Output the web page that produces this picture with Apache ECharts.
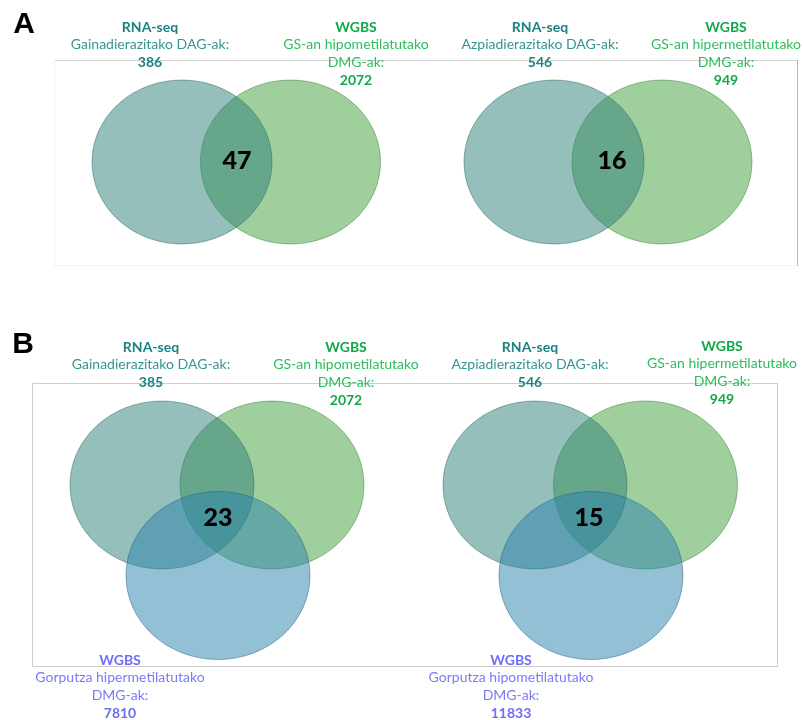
<!DOCTYPE html>
<html>
<head>
<meta charset="utf-8">
<script src="https://cdn.jsdelivr.net/npm/echarts@6/dist/echarts.min.js"></script>
<style>html,body{margin:0;padding:0;background:#fff}#c{width:804px;height:720px}</style>
</head>
<body>
<div id="c"></div>
<script>
// ---------- DATA ----------
const panelLetters = ['A', 'B'];

// Panel A, left diagram
const a1Titles = ['RNA-seq', 'WGBS'];
const a1Descs = [['Gainadierazitako DAG-ak:'], ['GS-an hipometilatutako', 'DMG-ak:']];
const a1Counts = [386, 2072];
const a1Common = 47;

// Panel A, right diagram
const a2Titles = ['RNA-seq', 'WGBS'];
const a2Descs = [['Azpiadierazitako DAG-ak:'], ['GS-an hipermetilatutako', 'DMG-ak:']];
const a2Counts = [546, 949];
const a2Common = 16;

// Panel B, left diagram
const b1Titles = ['RNA-seq', 'WGBS', 'WGBS'];
const b1Descs = [['Gainadierazitako DAG-ak:'], ['GS-an hipometilatutako', 'DMG-ak:'], ['Gorputza hipermetilatutako', 'DMG-ak:']];
const b1Counts = [385, 2072, 7810];
const b1Common = 23;

// Panel B, right diagram
const b2Titles = ['RNA-seq', 'WGBS', 'WGBS'];
const b2Descs = [['Azpiadierazitako DAG-ak:'], ['GS-an hipermetilatutako', 'DMG-ak:'], ['Gorputza hipometilatutako', 'DMG-ak:']];
const b2Counts = [546, 949, 11833];
const b2Common = 15;

// ---------- LAYOUT / STYLE ----------
const FONT = 'Lato, "Open Sans", sans-serif';
const circleFill = ['rgba(43,127,119,0.5)', 'rgba(65,160,61,0.5)', 'rgba(41,129,173,0.5)'];
const circleStroke = ['rgba(40,100,95,0.45)', 'rgba(50,120,50,0.45)', 'rgba(30,90,120,0.45)'];
const circleOrder = [1, 0, 2]; // green at bottom, teal above, blue on top
const titleColor = ['#1a8282', '#12a84a', '#6c6cf5'];
const descColor = ['#349593', '#2ebd5e', '#7a7af7'];

const diagrams = [
  { titles: a1Titles, descs: a1Descs, counts: a1Counts, common: a1Common,
    circles: [[182, 162], [290.5, 162]], rx: 90, ry: 82,
    labels: [[150, 27], [356, 27]], lh: 17.7, commonPos: [237, 161] },
  { titles: a2Titles, descs: a2Descs, counts: a2Counts, common: a2Common,
    circles: [[554, 162], [662, 162]], rx: 90, ry: 82,
    labels: [[540, 27], [726, 27]], lh: 17.7, commonPos: [612, 161] },
  { titles: b1Titles, descs: b1Descs, counts: b1Counts, common: b1Common,
    circles: [[162, 485], [272, 485], [218, 575.5]], rx: 92, ry: 84,
    labels: [[151, 347], [346, 347], [120, 660]], lh: 17.9, commonPos: [218, 518] },
  { titles: b2Titles, descs: b2Descs, counts: b2Counts, common: b2Common,
    circles: [[535, 485], [645.5, 485], [591, 575.5]], rx: 92, ry: 84,
    labels: [[530, 347], [722, 346], [511, 660]], lh: 17.9, commonPos: [589, 518] }
];

const series = [];
diagrams.forEach((d, di) => {
  // circles
  series.push({
    type: 'custom', coordinateSystem: 'cartesian2d', z: 2, silent: true,
    data: d.counts.map((c, i) => [i, c]),
    renderItem: (params, api) => {
      const i = params.dataIndex;
      const p = api.coord(d.circles[i]);
      const q = api.coord([d.circles[i][0] + d.rx, d.circles[i][1] + d.ry]);
      return {
        type: 'ellipse', z2: circleOrder[i],
        shape: { cx: p[0], cy: p[1], rx: Math.abs(q[0] - p[0]), ry: Math.abs(q[1] - p[1]) },
        style: { fill: circleFill[i], stroke: circleStroke[i], lineWidth: 1 }
      };
    }
  });
  // set labels
  series.push({
    type: 'custom', coordinateSystem: 'cartesian2d', z: 5, silent: true,
    data: d.counts.map((c, i) => [i, c]),
    renderItem: (params, api) => {
      const i = params.dataIndex;
      const lines = [{ t: d.titles[i], bold: true, col: titleColor[i] }]
        .concat(d.descs[i].map(s => ({ t: s, bold: false, col: descColor[i] })))
        .concat([{ t: String(api.value(1)), bold: true, col: titleColor[i] }]);
      const children = lines.map((ln, k) => {
        const p = api.coord([d.labels[i][0], d.labels[i][1] + k * d.lh]);
        return {
          type: 'text', x: p[0], y: p[1],
          style: { text: ln.t, fill: ln.col, align: 'center', verticalAlign: 'middle',
            font: (ln.bold ? 'bold ' : '') + '14px ' + FONT }
        };
      });
      return { type: 'group', children };
    }
  });
  // common count
  series.push({
    type: 'custom', coordinateSystem: 'cartesian2d', z: 6, silent: true,
    data: [[0, d.common]],
    renderItem: (params, api) => {
      const p = api.coord(d.commonPos);
      return { type: 'text', x: p[0], y: p[1],
        style: { text: String(api.value(1)), fill: '#000', align: 'center', verticalAlign: 'middle',
          font: '900 25px ' + FONT } };
    }
  });
});

const chart = echarts.init(document.getElementById('c'), null, { renderer: 'canvas' });
chart.setOption({
  animation: false,
  backgroundColor: '#fff',
  grid: { left: 0, right: 0, top: 0, bottom: 0 },
  xAxis: { type: 'value', min: 0, max: 804, show: false },
  yAxis: { type: 'value', min: 0, max: 720, inverse: true, show: false },
  graphic: [
    // panel A frame
    { type: 'line', shape: { x1: 54, y1: 60.5, x2: 797, y2: 60.5 }, style: { stroke: '#d2d2d2', lineWidth: 1 }, z: 1 },
    { type: 'line', shape: { x1: 54.5, y1: 60, x2: 54.5, y2: 265 }, style: { stroke: '#f2f2f2', lineWidth: 1 }, z: 1 },
    { type: 'line', shape: { x1: 54, y1: 265.5, x2: 797, y2: 265.5 }, style: { stroke: '#f2f2f2', lineWidth: 1 }, z: 1 },
    { type: 'line', shape: { x1: 797.5, y1: 60, x2: 797.5, y2: 266 }, style: { stroke: '#b8b8b8', lineWidth: 1 }, z: 1 },
    // panel B frame
    { type: 'rect', shape: { x: 32.5, y: 383.5, width: 745, height: 283 }, style: { fill: 'none', stroke: '#cccccc', lineWidth: 1 }, z: 1 },
    // panel letters
    { type: 'text', x: 24, y: 25, style: { text: panelLetters[0], font: 'bold 30px "Liberation Sans", Arial, sans-serif', fill: '#000', align: 'center', verticalAlign: 'middle' }, z: 10 },
    { type: 'text', x: 23, y: 345, style: { text: panelLetters[1], font: 'bold 30px "Liberation Sans", Arial, sans-serif', fill: '#000', align: 'center', verticalAlign: 'middle' }, z: 10 }
  ],
  series
});
</script>
</body>
</html>
